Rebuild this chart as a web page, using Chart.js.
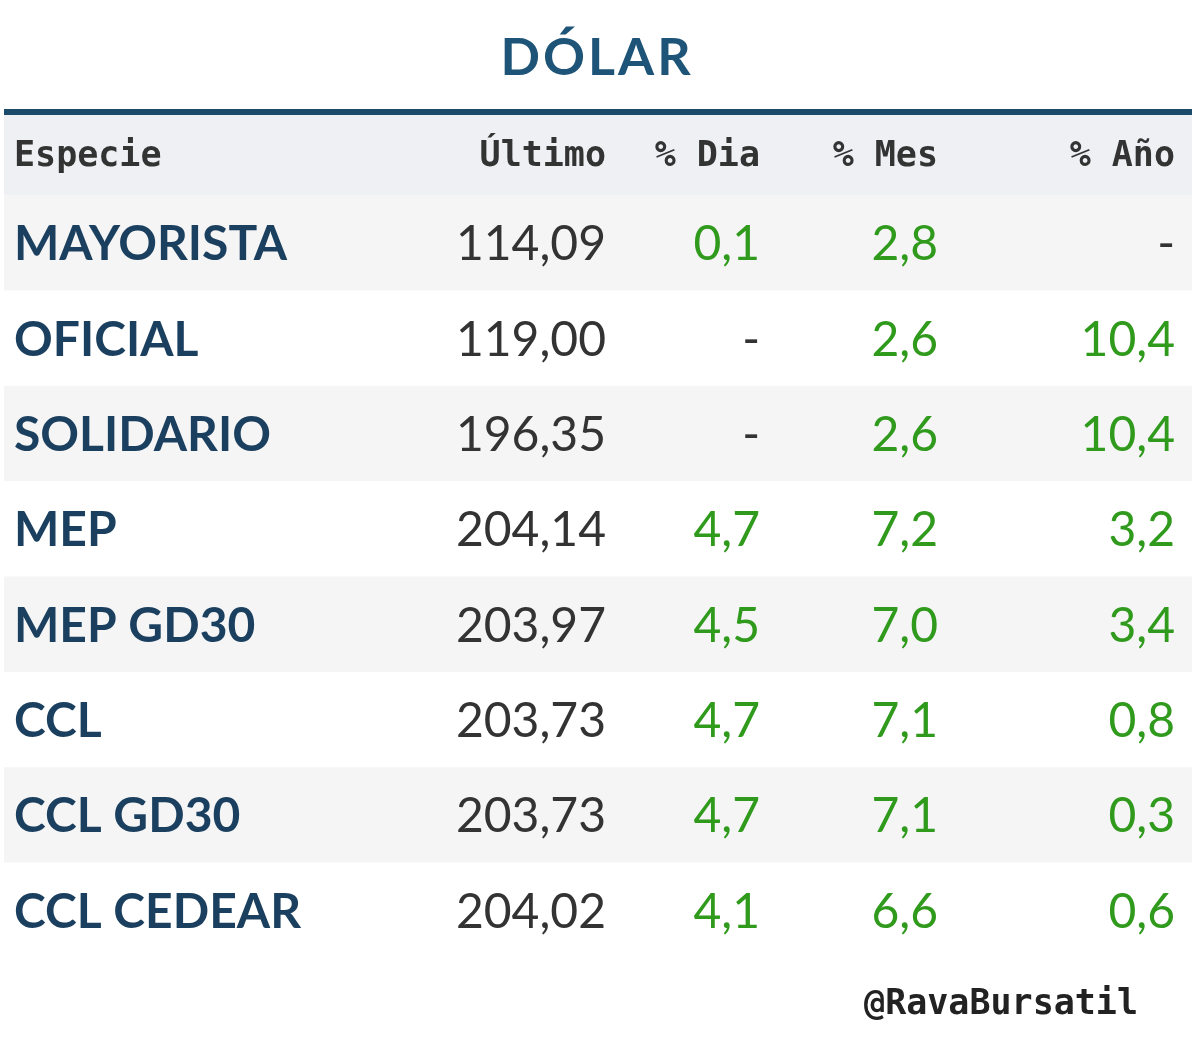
<!DOCTYPE html>
<html><head><meta charset="utf-8">
<script src="https://cdn.jsdelivr.net/npm/chart.js@4"></script>
<style>html,body{margin:0;padding:0;background:#fff}#c{display:block}</style>
</head><body>
<canvas id="c" width="1200" height="1062"></canvas>
<script>
const title = "DÓLAR";
const headers = ["Especie", "Último", "% Dia", "% Mes", "% Año"];
const especies = ["MAYORISTA","OFICIAL","SOLIDARIO","MEP","MEP GD30","CCL","CCL GD30","CCL CEDEAR"];
const ultimo = ["114,09","119,00","196,35","204,14","203,97","203,73","203,73","204,02"];
const pctDia = ["0,1","-","-","4,7","4,5","4,7","4,7","4,1"];
const pctMes = ["2,8","2,6","2,6","7,2","7,0","7,1","7,1","6,6"];
const pctAnio = ["-","10,4","10,4","3,2","3,4","0,8","0,3","0,6"];
const footer = "@RavaBursatil";

const tablePlugin = {
  id: 'table',
  beforeDraw(chart) {
    const ctx = chart.ctx, y = chart.scales.y, W = chart.width;
    ctx.save();
    ctx.fillStyle = '#fff'; ctx.fillRect(0,0,W,chart.height);
    ctx.fillStyle = '#1d5477';
    ctx.font = 'bold 52px Lato';
    ctx.textAlign = 'center'; ctx.textBaseline = 'middle';
    ctx.letterSpacing = '3px';
    ctx.fillText(title, 597, 58);
    ctx.letterSpacing = '0px';
    ctx.fillStyle = '#1b4a6b';
    ctx.fillRect(4, 109, 1188, 6);
    ctx.fillStyle = '#eef0f3';
    ctx.fillRect(4, 115, 1188, 80);
    ctx.fillStyle = '#333';
    ctx.font = 'bold 35px "DejaVu Sans Mono"';
    const colX = [14, 606, 760, 938, 1175];
    headers.forEach((h,i)=>{
      ctx.textAlign = i===0 ? 'left' : 'right';
      ctx.fillText(h, colX[i], 157);
    });
    const band = y.getPixelForValue(1) - y.getPixelForValue(0);
    especies.forEach((name,i)=>{
      const cy = y.getPixelForValue(i) + 2;
      if (i%2===0){ ctx.fillStyle='#f5f5f6'; ctx.fillRect(4, cy-2-band/2, 1188, band); }
      ctx.font = 'bold 48px Lato';
      ctx.textAlign='left'; ctx.fillStyle='#1b3f5e';
      ctx.fillText(name, 14, cy);
      ctx.font = '48px Lato';
      ctx.textAlign='right';
      ctx.fillStyle='#333';
      ctx.fillText(ultimo[i], colX[1], cy);
      [pctDia, pctMes, pctAnio].forEach((arr,k)=>{
        const v = arr[i];
        ctx.fillStyle = v==='-' ? '#333' : '#2f9a1c';
        ctx.fillText(v, colX[k+2], cy);
      });
    });
    ctx.fillStyle='#222';
    ctx.font = 'bold 35px "DejaVu Sans Mono"';
    ctx.textAlign='right';
    ctx.fillText(footer, 1138, 1005);
    ctx.restore();
  }
};

new Chart(document.getElementById('c'), {
  type: 'bar',
  data: { labels: especies, datasets: [{ data: especies.map(()=>null) }] },
  options: {
    indexAxis: 'y',
    responsive: false, animation: false, devicePixelRatio: 1,
    layout: { padding: { top: 195, bottom: 104, left: 0, right: 0 } },
    plugins: { legend: {display:false}, tooltip:{enabled:false} },
    scales: { x: {display:false, min:0, max:1}, y: {display:false} }
  },
  plugins: [tablePlugin]
});
</script>
</body></html>
